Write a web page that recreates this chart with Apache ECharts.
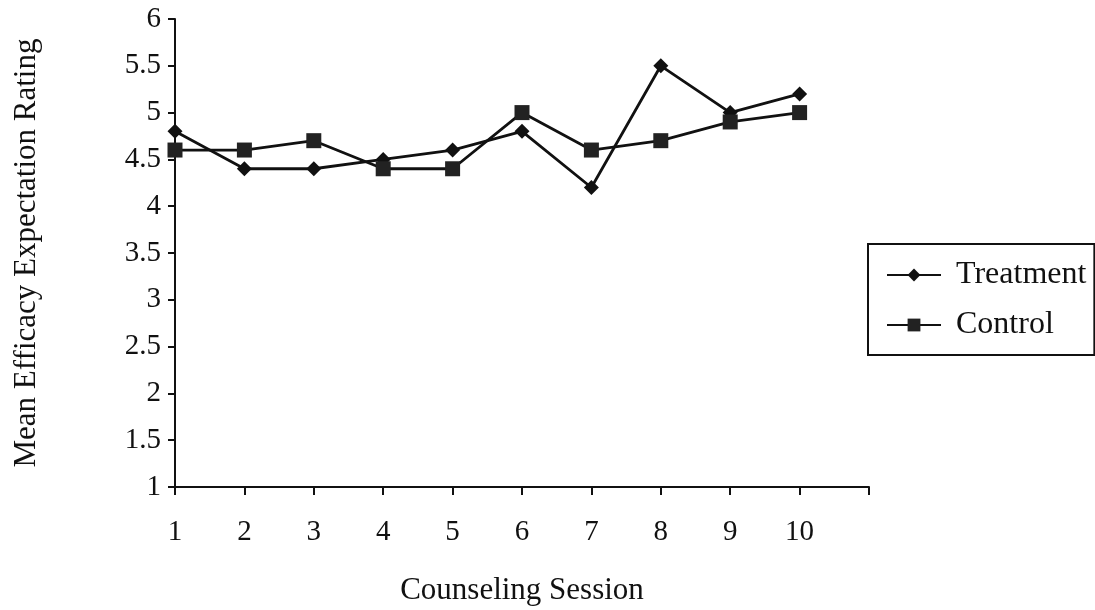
<!DOCTYPE html>
<html><head><meta charset="utf-8">
<script src="https://cdn.jsdelivr.net/npm/echarts@6/dist/echarts.min.js"></script>
<style>html,body{margin:0;padding:0;background:#fff}#c{width:1095px;height:610px}</style>
</head><body><div id="c"></div>
<script>
const sessions = [1,2,3,4,5,6,7,8,9,10];
const treatment = [4.8,4.4,4.4,4.5,4.6,4.8,4.2,5.5,5.0,5.2];
const control = [4.6,4.6,4.7,4.4,4.4,5.0,4.6,4.7,4.9,5.0];
const xTitle = 'Counseling Session';
const yTitle = 'Mean Efficacy Expectation Rating';
const font = 'Liberation Serif';
const chart = echarts.init(document.getElementById('c'));
chart.setOption({
  animation:false,
  backgroundColor:'#fff',
  grid:{left:175,right:226,top:19,bottom:123,outerBoundsMode:'none',containLabel:false},
  xAxis:{type:'value',min:1,max:11,interval:1,
    axisLine:{lineStyle:{color:'#111',width:2}},
    axisTick:{show:true,length:8,lineStyle:{color:'#111',width:2}},
    splitLine:{show:false},
    axisLabel:{color:'#111',fontFamily:font,fontSize:29,margin:31,
      formatter:v=> v<=10 ? String(v) : ''},
    name:xTitle,nameLocation:'middle',nameGap:88,
    nameTextStyle:{color:'#111',fontFamily:font,fontSize:31}},
  yAxis:{type:'value',min:1,max:6,interval:0.5,
    axisLine:{show:true,lineStyle:{color:'#111',width:2}},
    axisTick:{show:true,length:7,lineStyle:{color:'#111',width:2}},
    splitLine:{show:false},
    axisLabel:{color:'#111',fontFamily:font,fontSize:29,margin:14},
    name:yTitle,nameLocation:'middle',nameGap:133,
    nameTextStyle:{color:'#111',fontFamily:font,fontSize:31}},
  legend:{orient:'vertical',left:868,top:244,
    padding:[15,8,14,18],itemGap:18,itemWidth:54,itemHeight:16,
    borderColor:'#111',borderWidth:2,
    textStyle:{color:'#111',fontFamily:font,fontSize:32,padding:[0,0,0,10]},
    data:['Treatment','Control']},
  series:[
    {name:'Treatment',type:'line',data:sessions.map((s,i)=>[s,treatment[i]]),
      symbol:'diamond',symbolSize:15,
      lineStyle:{color:'#111',width:2.8},itemStyle:{color:'#111'}},
    {name:'Control',type:'line',data:sessions.map((s,i)=>[s,control[i]]),
      symbol:'rect',symbolSize:15,
      lineStyle:{color:'#111',width:2.8},itemStyle:{color:'#222'}}
  ]
});
</script></body></html>
